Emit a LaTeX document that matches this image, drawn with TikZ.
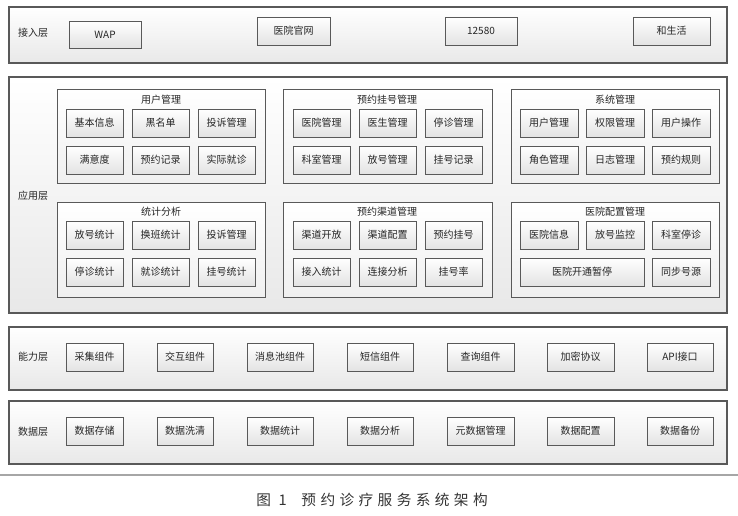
\documentclass[tikz,border=0pt]{standalone}
\usepackage{fontspec}
\setmainfont{Noto Sans CJK SC}
\newfontfamily\capfont[LetterSpace=30]{Noto Sans CJK SC}
\tikzset{
	wh/.style 2 args={minimum width=#1*0.75pt, minimum height=#2*0.75pt},
	layer/.style={draw=black!65, line width=0.8pt, top color=white, bottom color=black!9, inner sep=0pt, outer sep=0pt, anchor=north west},
	group/.style={draw=black!65, line width=0.7pt, top color=white, bottom color=black!6, inner sep=0pt, outer sep=0pt, anchor=north west},
	item/.style={draw=black!65, line width=0.7pt, top color=white, bottom color=black!11, inner sep=0pt, outer sep=0pt, anchor=north west, text height=6pt, text depth=0.6pt, font=\fontsize{7.5}{9}\selectfont, text=black!85},
	tag/.style={inner sep=0pt, text height=6pt, text depth=0.6pt, font=\fontsize{7.5}{9}\selectfont, text=black!85},
}
\begin{document}
\begin{tikzpicture}[x=0.75pt, y=-0.75pt]
		\useasboundingbox (0,0) rectangle (738,515);
		
		% Draw the four layers
		\node[layer, wh={718}{56}] (access) at (9,7) {};
		\node[layer, wh={718}{236}] (app) at (9,77) {};
		\node[layer, wh={718}{63}] (cap) at (9,327) {};
		\node[layer, wh={718}{63}] (data) at (9,401) {};
		
		% Add labels for the layers
		\node[tag] (access-title) at (33,33) {接入层};
		\node[tag] (app-title) at (33,196) {应用层};
		\node[tag] (cap-title) at (33,357) {能力层};
		\node[tag] (data-title) at (33,432) {数据层};
		
		% Access layer
		\node[item, wh={72}{27}] (wap) at (69,21) {WAP};
		\node[item, wh={73}{28}] (web) at (257,17) {医院官网};
		\node[item, wh={72}{28}] (tel) at (445,17) {12580};
		\node[item, wh={77}{28}] (life) at (633,17) {和生活};
		
		% Application layer, upper groups
		\node[group, wh={208}{94}] (user) at (57,89) {};
		\node[tag] (user-title) at (161,100) {用户管理};
		\foreach \t [count=\i from 0] in {基本信息,黑名单,投诉管理,满意度,预约记录,实际就诊} {
				\pgfmathsetmacro{\xa}{66 + mod(\i,3)*66}
				\pgfmathsetmacro{\ya}{109 + int(\i/3)*37}
				\node[item, wh={57}{28}] (user-\i) at (\xa,\ya) {\t};
			}
		
		\node[group, wh={209}{94}] (appt) at (283,89) {};
		\node[tag] (appt-title) at (387,100) {预约挂号管理};
		\foreach \t [count=\i from 0] in {医院管理,医生管理,停诊管理,科室管理,放号管理,挂号记录} {
				\pgfmathsetmacro{\xa}{293 + mod(\i,3)*66}
				\pgfmathsetmacro{\ya}{109 + int(\i/3)*37}
				\node[item, wh={57}{28}] (appt-\i) at (\xa,\ya) {\t};
			}
		
		\node[group, wh={208}{94}] (sys) at (511,89) {};
		\node[tag] (sys-title) at (615,100) {系统管理};
		\foreach \t [count=\i from 0] in {用户管理,权限管理,用户操作,角色管理,日志管理,预约规则} {
				\pgfmathsetmacro{\xa}{520 + mod(\i,3)*66}
				\pgfmathsetmacro{\ya}{109 + int(\i/3)*37}
				\node[item, wh={58}{28}] (sys-\i) at (\xa,\ya) {\t};
			}
		
		% Application layer, lower groups
		\node[group, wh={208}{95}] (stat) at (57,202) {};
		\node[tag] (stat-title) at (161,212) {统计分析};
		\foreach \t [count=\i from 0] in {放号统计,换班统计,投诉管理,停诊统计,就诊统计,挂号统计} {
				\pgfmathsetmacro{\xa}{66 + mod(\i,3)*66}
				\pgfmathsetmacro{\ya}{221 + int(\i/3)*37}
				\node[item, wh={57}{28}] (stat-\i) at (\xa,\ya) {\t};
			}
		
		\node[group, wh={209}{95}] (chan) at (283,202) {};
		\node[tag] (chan-title) at (387,212) {预约渠道管理};
		\foreach \t [count=\i from 0] in {渠道开放,渠道配置,预约挂号,接入统计,连接分析,挂号率} {
				\pgfmathsetmacro{\xa}{293 + mod(\i,3)*66}
				\pgfmathsetmacro{\ya}{221 + int(\i/3)*37}
				\node[item, wh={57}{28}] (chan-\i) at (\xa,\ya) {\t};
			}
		
		\node[group, wh={208}{95}] (conf) at (511,202) {};
		\node[tag] (conf-title) at (615,212) {医院配置管理};
		\foreach \t [count=\i from 0] in {医院信息,放号监控,科室停诊} {
				\pgfmathsetmacro{\xa}{520 + \i*66}
				\node[item, wh={58}{28}] (conf-\i) at (\xa,221) {\t};
			}
		\node[item, wh={124}{28}] (conf-3) at (520,258) {医院开通暂停};
		\node[item, wh={58}{28}] (conf-4) at (652,258) {同步号源};
		
		% Capability layer and data layer
		\foreach \x/\w/\t [count=\i] in {66/57/采集组件, 157/56/交互组件, 247/66/消息池组件, 347/66/短信组件, 447/67/查询组件, 547/67/加密协议, 647/66/API接口} {
				\node[item, wh={\w}{28}] (cap-\i) at (\x,343) {\t};
			}
		\foreach \x/\w/\t [count=\i] in {66/57/数据存储, 157/56/数据洗清, 247/66/数据统计, 347/66/数据分析, 447/67/元数据管理, 547/67/数据配置, 647/66/数据备份} {
				\node[item, wh={\w}{28}] (data-\i) at (\x,417) {\t};
			}
		
		% Caption
		\coordinate (rule-l) at (0,475);
		\coordinate (rule-r) at (738,475);
		\draw[black!35, line width=0.8pt] (rule-l) -- (rule-r);
		\node[font=\capfont\fontsize{11}{13}\selectfont, text=black!80] (caption) at (372,500) {图 1\quad 预约诊疗服务系统架构};
		
	\end{tikzpicture}
\end{document}
